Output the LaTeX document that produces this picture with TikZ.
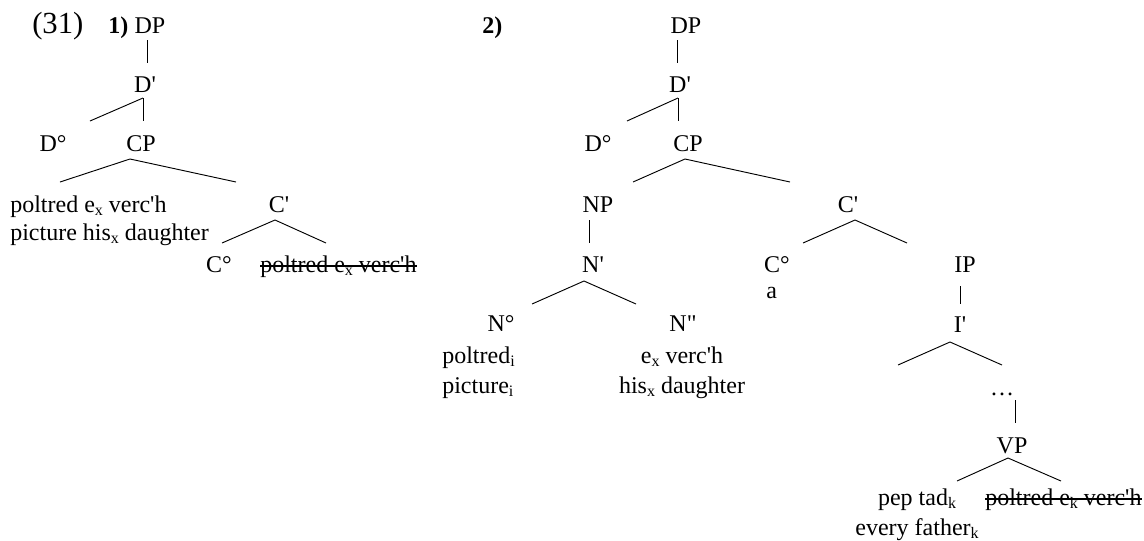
\documentclass[tikz,border=0pt]{standalone}
\usepackage{fontspec}
\setmainfont{Liberation Serif}[Ligatures=TeXOff]
\usetikzlibrary{positioning}
\newcommand{\lowsub}[1]{\raisebox{-0.3ex}{\fontsize{12}{12}\selectfont #1}}
\newcommand{\crossout}[1]{\setbox0\hbox{#1}\rlap{\rule[0.45ex]{\wd0}{1.3pt}}\box0}
\tikzset{
    %Define style for category labels
    cat/.style={
           anchor=base,
           inner sep=0pt,
           font=\fontsize{18}{22}\selectfont},
    %Define style for word blocks (base = last line)
    words/.style={
           cat,
           anchor=base west,
           align=left},
    wordsc/.style={
           cat,
           align=center},
    num/.style={
           cat,
           anchor=base west,
           font=\fontsize{18}{22}\selectfont\bfseries},
    % Define branch style
    branch/.style={
           line width=0.7pt}
}
\begin{document}
\begin{tikzpicture}[x=0.75pt,y=-0.75pt]
\useasboundingbox (0,0) rectangle (1144,540);

 %tree 1
\node[cat, anchor=base west, font=\fontsize{23}{23}\selectfont](exno) at (32,33){(31)};
\node[num](labA) at (108,33){1)};
\node[cat](dpA) at (150,33){DP};
\node[cat](dbA) at (145,92){D'};
\node[cat](doA) at (53,151){D°};
\node[cat](cpA) at (141,151){CP};
\node[words, font=\fontsize{18}{21}\selectfont](wA) at (10,240){poltred e\lowsub{x} verc'h\\picture his\lowsub{x} daughter};
\node[cat](cbA) at (279,212){C'};
\node[cat](coA) at (219,272){C°};
\node[words](gapA) at (260,272){\crossout{poltred e\lowsub{x} verc'h}};

\coordinate (dpA-b) at (147,40);
\coordinate (dbA-t) at (147,63);
\coordinate (dbA-b) at (143,98);
\coordinate (doA-t) at (90,121);
\coordinate (cpA-t) at (143,121);
\coordinate (cpA-b) at (130,159);
\coordinate (wA-t) at (60,182);
\coordinate (cbA-t) at (236,182);
\coordinate (cbA-b) at (275,220);
\coordinate (coA-t) at (222,243);
\coordinate (gapA-t) at (326,243);

 \path[branch]
    (dpA-b) edge (dbA-t)
    (dbA-b) edge (doA-t)
    	edge (cpA-t)
    (cpA-b) edge (wA-t)
    	edge (cbA-t)
    (cbA-b) edge (coA-t)
    	edge (gapA-t);

 %tree 2
\node[num](labB) at (482,33){2)};
\node[cat](dpB) at (686,33){DP};
\node[cat](dbB) at (680,92){D'};
\node[cat](doB) at (598,151){D°};
\node[cat](cpB) at (688,151){CP};
\node[cat](npB) at (598,212){NP};
\node[cat](cbB) at (848,212){C'};
\node[cat](nbB) at (593,272){N'};
\node[cat](coB) at (777,272){C°};
\node[words](aB) at (766,298){a};
\node[cat](ipB) at (965,272){IP};
\node[cat](noB) at (501,331){N°};
\node[cat](nnB) at (683,331){N"};
\node[cat](ibB) at (960,332){I'};
\node[words](wB) at (442,393){poltred\lowsub{i}\\picture\lowsub{i}};
\node[wordsc](wwB) at (682,393){e\lowsub{x} verc'h\\his\lowsub{x} daughter};
\node[cat](dotsB) at (1002,395){…};
\node[cat](vpB) at (1012,453){VP};
\node[wordsc](subjB) at (917,535){pep tad\lowsub{k}\\every father\lowsub{k}};
\node[words](gapB) at (985,505){\crossout{poltred e\lowsub{k} verc'h}};

\coordinate (dpB-b) at (677,40);
\coordinate (dbB-t) at (677,63);
\coordinate (dbB-b) at (678,98);
\coordinate (doB-t) at (627,121);
\coordinate (cpB-t) at (678,121);
\coordinate (cpB-b) at (685,159);
\coordinate (npB-t) at (633,182);
\coordinate (cbB-t) at (790,182);
\coordinate (npB-b) at (589,220);
\coordinate (nbB-t) at (589,243);
\coordinate (nbB-b) at (584,281);
\coordinate (noB-t) at (532,304);
\coordinate (nnB-t) at (636,304);
\coordinate (cbB-b) at (855,220);
\coordinate (coB-t) at (803,243);
\coordinate (ipB-t) at (907,243);
\coordinate (ipB-b) at (960,286);
\coordinate (ibB-t) at (960,304);
\coordinate (ibB-b) at (950,342);
\coordinate (ibB-l) at (898,365);
\coordinate (dotsB-t) at (1002,365);
\coordinate (dotsB-b) at (1015,400);
\coordinate (vpB-t) at (1015,423);
\coordinate (vpB-b) at (1008,458);
\coordinate (subjB-t) at (957,481);
\coordinate (gapB-t) at (1061,481);

 \path[branch]
    (dpB-b) edge (dbB-t)
    (dbB-b) edge (doB-t)
    	edge (cpB-t)
    (cpB-b) edge (npB-t)
    	edge (cbB-t)
    (npB-b) edge (nbB-t)
    (nbB-b) edge (noB-t)
    	edge (nnB-t)
    (cbB-b) edge (coB-t)
    	edge (ipB-t)
    (ipB-b) edge (ibB-t)
    (ibB-b) edge (ibB-l)
    	edge (dotsB-t)
    (dotsB-b) edge (vpB-t)
    (vpB-b) edge (subjB-t)
    	edge (gapB-t);

\end{tikzpicture}
\end{document}
